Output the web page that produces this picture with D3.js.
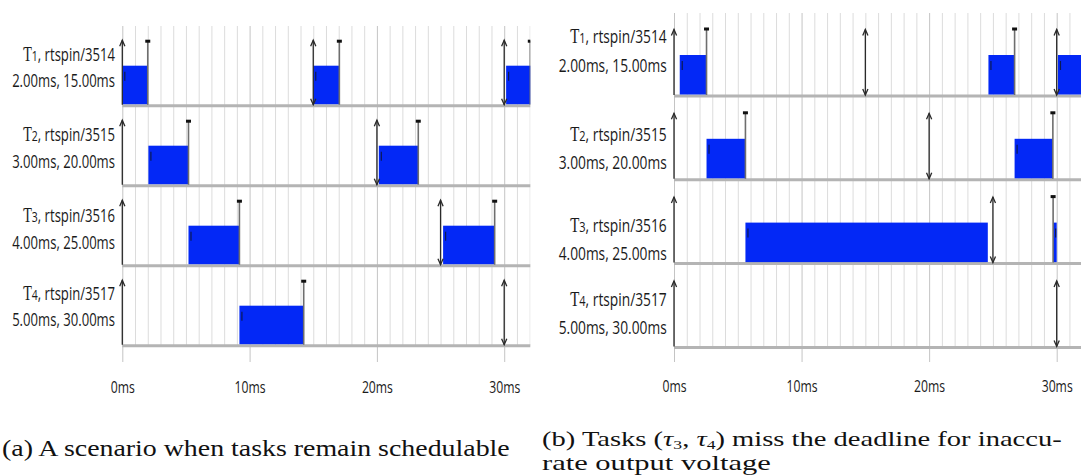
<!DOCTYPE html>
<html><head><meta charset="utf-8">
<script src="https://cdn.jsdelivr.net/npm/d3@7"></script>
<style>body{margin:0;background:#fff}svg{display:block}</style>
</head><body>
<svg id="c" width="1081" height="475"></svg>
<script>
// ---- data ----
const taskSymbols = ["τ", "τ", "τ", "τ"];
const taskIndex = ["1", "2", "3", "4"];
const taskPids = [3514, 3515, 3516, 3517];
const taskCosts = [2, 3, 4, 5];          // ms
const taskPeriods = [15, 20, 25, 30];    // ms
const tickValues = [0, 10, 20, 30];
const tickLabels = ["0ms", "10ms", "20ms", "30ms"];
const minorTicks = d3.range(0, 33, 1);

// panel (a): schedulable
const execA = [
  [[0, 2.0], [15.0, 17.05], [30.15, 32.2]],
  [[2.05, 5.2], [20.15, 23.25]],
  [[5.2, 9.2], [25.2, 29.25]],
  [[9.2, 14.25]]
];
const completeA = [[2.0, 17.05, 32.05], [5.2, 23.25], [9.2, 29.25], [14.25]];
const releaseA = [[0, 15, 30], [0, 20], [0, 25], [0, 30]];
const deadlineA = [[15, 30], [20], [25], [30]];

// panel (b): deadline misses
const execB = [
  [[0.45, 2.55], [24.65, 26.7], [30.1, 32.2]],
  [[2.55, 5.6], [26.7, 29.7]],
  [[5.6, 24.6], [29.72, 30.0]],
  []
];
const completeB = [[2.55, 26.7], [5.6, 29.7], [29.72], []];
const releaseB = [[0, 15, 30], [0, 20], [0, 25], [0, 30]];
const deadlineB = [[15, 30], [20], [25], [30]];

const captionA = "(a) A scenario when tasks remain schedulable";
const captionB1 = ["(b) Tasks (", "τ", "3", ", ", "τ", "4", ") miss the deadline for inaccu-"];
const captionB2 = "rate output voltage";

// ---- drawing ----
const svg = d3.select("#c");
const BLUE = "#0328f6";
// visual stand-in for the hooked capital tau glyph used in the reference labels
const tauGlyph = s => (s === "τ" ? "Ƭ" : s);

function drawPanel(cfg, exec, complete, release, deadline, id) {
  const g = svg.append("g");
  const x = d3.scaleLinear().domain(cfg.domain).range(cfg.range);
  const yBase = d3.scaleLinear().domain([0, 1]).range([cfg.base0, cfg.base0 + cfg.step]);
  const nRows = taskPids.length;
  const lastBase = yBase(nRows - 1);

  g.append("clipPath").attr("id", id).append("rect")
    .attr("x", cfg.range[0] - 6).attr("y", 0)
    .attr("width", cfg.range[1] - cfg.range[0] + 6).attr("height", 475);
  const pg = g.append("g").attr("clip-path", `url(#${id})`);

  pg.selectAll("line.minor").data(minorTicks.filter(d => d % 10 !== 0)).join("line")
    .attr("x1", d => x(d) + 0.5).attr("x2", d => x(d) + 0.5)
    .attr("y1", cfg.gridTop).attr("y2", lastBase)
    .attr("stroke", "#dcdcdc").attr("stroke-width", 1);
  pg.selectAll("line.major").data(tickValues).join("line")
    .attr("x1", d => x(d) + 0.5).attr("x2", d => x(d) + 0.5)
    .attr("y1", cfg.gridTop).attr("y2", cfg.majorBottom)
    .attr("stroke", "#c4c4c4").attr("stroke-width", 1);

  for (let i = 0; i < nRows; i++) {
    const base = yBase(i);
    const row = pg.append("g");
    row.append("line").attr("x1", x(cfg.domain[0])).attr("x2", x(cfg.domain[1]) + 2)
      .attr("y1", base).attr("y2", base).attr("stroke", "#b4b4b4").attr("stroke-width", 3);
    row.selectAll("rect.job").data(exec[i]).join("rect")
      .attr("x", d => x(d[0])).attr("width", d => x(d[1]) - x(d[0]))
      .attr("y", base - cfg.barH).attr("height", cfg.barH - 1.5)
      .attr("fill", BLUE);
    row.selectAll("path.jl").data(exec[i]).join("path")
      .attr("d", d => `M${x(d[0]) + 2.5},${base - cfg.barH + 6}v9`)
      .attr("stroke", "#0b1a55").attr("stroke-width", 1.2).attr("fill", "none");
    complete[i].forEach(c => {
      row.append("line").attr("x1", x(c)).attr("x2", x(c))
        .attr("y1", base - cfg.markTop).attr("y2", base - 1)
        .attr("stroke", "#6e6e6e").attr("stroke-width", 1.6);
      row.append("rect").attr("x", x(c) - 2.5).attr("y", base - cfg.markTop - 1)
        .attr("width", 5).attr("height", 3).attr("fill", "#111");
    });
    release[i].forEach(r => {
      const xr = x(r), tip = base - cfg.arrowLen;
      row.append("line").attr("x1", xr).attr("x2", xr).attr("y1", tip).attr("y2", base - 1)
        .attr("stroke", "#2a2a2a").attr("stroke-width", 1.3);
      row.append("path").attr("d", `M${xr - 2.6},${tip + 6}L${xr},${tip}L${xr + 2.6},${tip + 6}`)
        .attr("fill", "none").attr("stroke", "#2a2a2a").attr("stroke-width", 1.3);
    });
    deadline[i].forEach(dl => {
      const xd = x(dl);
      row.append("path").attr("d", `M${xd - 2.6},${base - 7}L${xd},${base - 1}L${xd + 2.6},${base - 7}`)
        .attr("fill", "none").attr("stroke", "#2a2a2a").attr("stroke-width", 1.3);
    });

    const l1 = g.append("text").attr("text-anchor", "end").attr("font-family", "Open Sans")
      .attr("font-size", cfg.fs).attr("fill", "#1a1a1a")
      .attr("transform", `translate(${cfg.labelX},${base + cfg.l1[i]}) scale(${cfg.k},1)`);
    l1.append("tspan").attr("font-size", cfg.fs * 1.08).text(tauGlyph(taskSymbols[i]));
    l1.append("tspan").attr("font-size", cfg.fs * 0.8).text(taskIndex[i]);
    l1.append("tspan").text(`, rtspin/${taskPids[i]}`);
    g.append("text").attr("text-anchor", "end").attr("font-family", "Open Sans")
      .attr("font-size", cfg.fs).attr("fill", "#1a1a1a")
      .attr("transform", `translate(${cfg.labelX},${base + cfg.l2[i]}) scale(${cfg.k},1)`)
      .text(`${taskCosts[i].toFixed(2)}ms, ${taskPeriods[i].toFixed(2)}ms`);
  }

  const axis = d3.axisBottom(x).tickValues(tickValues)
    .tickFormat((d, i) => tickLabels[i]).tickSize(0).tickPadding(0);
  const ax = g.append("g").attr("transform", `translate(0,${cfg.axisY})`).call(axis);
  ax.select(".domain").remove();
  ax.selectAll("text").attr("font-family", "Open Sans").attr("font-size", 16.5).attr("fill", "#1a1a1a")
    .attr("transform", "scale(0.74,1)");
  return g;
}

drawPanel({
  domain: [0, 32.05], range: [122.3, 530.3], base0: 105.7, step: 80, barH: 40,
  arrowLen: 65.5, markTop: 65, gridTop: 26, majorBottom: 362,
  labelX: 115, fs: 19, k: 0.69,
  l1: [-45, -45, -44, -46], l2: [-19, -18, -17, -20], axisY: 381.3
}, execA, completeA, releaseA, deadlineA, "clipA");

drawPanel({
  domain: [0, 32], range: [674, 1082.2], base0: 96, step: 83.8, barH: 41,
  arrowLen: 66.5, markTop: 67.5, gridTop: 13, majorBottom: 362,
  labelX: 666.7, fs: 19, k: 0.725,
  l1: [-53, -38.5, -32, -41], l2: [-24.5, -10.5, -4, -13], axisY: 380.3
}, execB, completeB, releaseB, deadlineB, "clipB");

// captions, fitted to the reference widths via transform
const capFont = "'Liberation Serif', 'Times New Roman', serif";
function fitText(sel, x0, y0, width) {
  const w = sel.node().getComputedTextLength();
  sel.attr("transform", `translate(${x0},${y0}) scale(${(width / w).toFixed(4)},1)`);
}
const ca = svg.append("text").attr("font-family", capFont)
  .attr("font-size", 24).attr("fill", "#111").text(captionA);
fitText(ca, 2, 456, 508);

const cb = svg.append("text").attr("font-family", capFont).attr("font-size", 21).attr("fill", "#111");
captionB1.forEach((s, j) => {
  const t = cb.append("tspan").text(s);
  if (s === "τ") t.attr("font-style", "italic");
  if (j === 2 || j === 5) t.attr("font-size", 13).attr("dy", 2.5);
  if (j === 3 || j === 6) t.attr("dy", -2.5);
});
fitText(cb, 542, 446, 520);
const cb2 = svg.append("text").attr("font-family", capFont)
  .attr("font-size", 21).attr("fill", "#111").text(captionB2);
fitText(cb2, 542, 470, 229);
</script>
</body></html>
